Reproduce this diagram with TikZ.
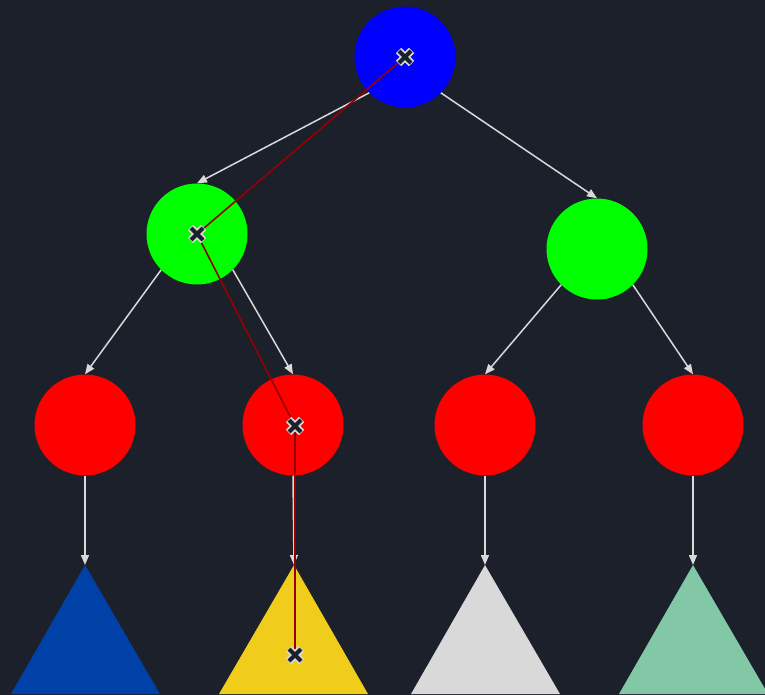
\documentclass[tikz,border=0pt]{standalone}
\usetikzlibrary{arrows.meta}
\definecolor{bg}{RGB}{28,32,43}
\definecolor{edgec}{RGB}{217,217,217}
\definecolor{pathc}{RGB}{150,0,0}
\definecolor{tblue}{RGB}{0,65,168}
\definecolor{tyellow}{RGB}{240,205,27}
\definecolor{tgrey}{RGB}{217,217,217}
\definecolor{tgreen}{RGB}{130,200,166}
\tikzset{
  x=1pt, y=-1pt,
  circ/.style={circle, minimum size=101pt, inner sep=0pt, draw=none},
  edge/.style={draw=edgec, line width=1.5pt, -{Triangle[length=10pt,width=8pt]}},
  trail/.style={draw=pathc, line width=1.6pt},
  xmk/.pic={
    \draw[edgec, line width=7.5pt] (-6.5,-6.5) -- (6.5,6.5) (-6.5,6.5) -- (6.5,-6.5);
    \draw[bg, line width=4pt] (-6,-6) -- (6,6) (-6,6) -- (6,-6);
  }
}
\begin{document}
\begin{tikzpicture}
\fill[bg] (0,0) rectangle (765,695);
\useasboundingbox (0,0) rectangle (765,695);
% circles
\node[circ, fill={rgb,255:red,0;green,0;blue,255}] (root) at (405,57) {};
\node[circ, fill={rgb,255:red,0;green,255;blue,0}] (lg) at (197,234) {};
\node[circ, fill={rgb,255:red,0;green,255;blue,0}] (rg) at (597,249) {};
\node[circ, fill={rgb,255:red,255;green,0;blue,0}] (r1) at (85,425) {};
\node[circ, fill={rgb,255:red,255;green,0;blue,0}] (r2) at (293,425) {};
\node[circ, fill={rgb,255:red,255;green,0;blue,0}] (r3) at (485,425) {};
\node[circ, fill={rgb,255:red,255;green,0;blue,0}] (r4) at (693,425) {};
% triangles
\coordinate (t1) at (85,565);
\coordinate (t2) at (294,565);
\coordinate (t3) at (485,565);
\coordinate (t4) at (693,565);
\fill[tblue] (t1) -- (160,694) -- (11,694) -- cycle;
\fill[tyellow] (t2) -- (368,694) -- (219,694) -- cycle;
\fill[tgrey] (t3) -- (560,694) -- (411,694) -- cycle;
\fill[tgreen] (t4) -- (768,694) -- (619,694) -- cycle;
% edges
\draw[edge] (root.south west) -- (lg.north);
\draw[edge] (root.south east) -- (rg.north);
\draw[edge] (lg.south west) -- (r1.north);
\draw[edge] (lg.south east) -- (r2.north);
\draw[edge] (rg.south west) -- (r3.north);
\draw[edge] (rg.south east) -- (r4.north);
\draw[edge] (r1.south) -- (t1);
\draw[edge] (r2.south) -- (t2);
\draw[edge] (r3.south) -- (t3);
\draw[edge] (r4.south) -- (t4);
% trail
\coordinate (m1) at (405,57);
\coordinate (m2) at (197,234);
\coordinate (m3) at (295,426);
\coordinate (m4) at (295,655);
\draw[trail] (m1) -- (m2) -- (m3) -- (m4);
\pic at (m1) {xmk};
\pic at (m2) {xmk};
\pic at (m3) {xmk};
\pic at (m4) {xmk};
\end{tikzpicture}
\end{document}
